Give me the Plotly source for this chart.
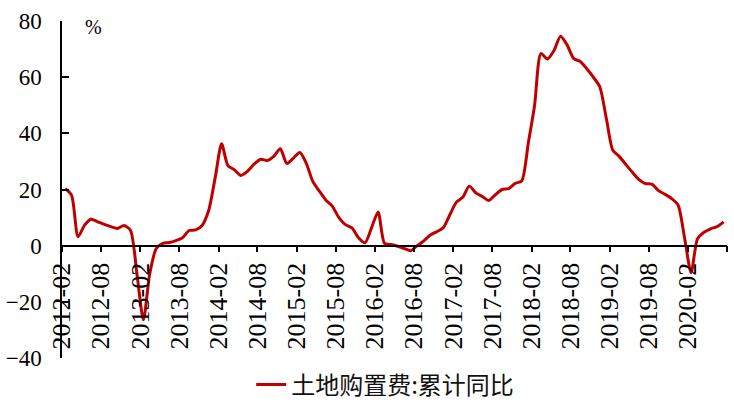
# 土地购置费:累计同比 (2012-02 ~ 2020-07)

import pandas as pd
import plotly.graph_objects as go

# data, monthly, % yoy (Jan is midpoint-filled in source)
values = [
    20.3, 18.0, 3.2, 7.3, 9.4, 8.5, 7.6, 6.8, 6.1, 7.2, 5.5,            # 2012-02 .. 2012-12
    -10.5, -26.4, -10.0, -1.0, 0.8, 1.1, 1.8, 2.8, 5.4, 5.6, 7.2, 12.5,  # 2013
    24.4, 36.3, 28.5, 27.0, 25.0, 26.5, 29.0, 30.8, 30.3, 31.8, 34.5, 29.3,  # 2014
    31.2, 33.2, 29.5, 23.0, 19.5, 16.3, 14.1, 10.0, 7.5, 6.3, 2.8, 1.0,   # 2015
    6.5, 12.0, 0.8, 0.4, -0.2, -1.0, -1.8, 0.0, 1.7, 3.8, 5.0, 6.5,       # 2016
    11.2, 15.5, 17.2, 21.2, 18.8, 17.5, 16.1, 18.2, 20.0, 20.3, 22.2, 23.0,  # 2017
    36.5, 50.0, 68.4, 66.5, 69.5, 74.6, 71.5, 66.6, 65.6, 63.0, 60.0, 56.5,  # 2018
    45.0, 34.0, 31.8, 29.0, 26.2, 23.6, 22.1, 21.9, 19.6, 18.3, 16.8, 14.5,  # 2019
    2.5, -9.6, 2.5, 4.8, 6.0, 6.8, 8.5,                                   # 2020-01 .. 2020-07
]
months = pd.date_range("2012-02-01", periods=len(values), freq="MS")

tick_dates = pd.date_range("2012-02-01", "2020-08-01", freq="6MS")
tick_labels = [d.strftime("%Y-%m") for d in tick_dates[:-1]] + [""]

series_name = "土地购置费:累计同比"

fig = go.Figure()
fig.add_trace(go.Scatter(
    x=months, y=values, name=series_name, mode="lines",
    xperiod="M1", xperiodalignment="middle",
    line=dict(color="#C00000", width=3, shape="spline", smoothing=0.7),
))

serif = "Liberation Serif"

fig.update_layout(
    width=734, height=404,
    font=dict(family=serif, color="black"),
    margin=dict(l=62, r=7, t=21, b=46, autoexpand=False),
    paper_bgcolor="white", plot_bgcolor="white",
    showlegend=True,
    legend=dict(
        orientation="h",
        x=0.486, xanchor="center", y=-0.08, yanchor="middle",
        font=dict(family="Noto Sans CJK SC", size=24, color="#111"),
        bgcolor="rgba(0,0,0,0)",
    ),
    xaxis=dict(
        type="date",
        range=["2012-02-01", "2020-08-01"],
        tickvals=tick_dates, ticktext=tick_labels,
        tickangle=-90,
        anchor="free", position=1 / 3,
        showline=True, linecolor="black", linewidth=1.5,
        ticks="outside", ticklen=6, tickwidth=1.5, tickcolor="black",
        showgrid=False, zeroline=False, automargin=False,
        tickfont=dict(family=serif, size=26, color="black"),
    ),
    yaxis=dict(
        range=[-40, 80], dtick=20,
        showline=True, linecolor="black", linewidth=1.5,
        ticks="inside", ticklen=7, tickwidth=1.5, tickcolor="black",
        showgrid=False, zeroline=False, automargin=False,
        ticklabelstandoff=14,
        tickfont=dict(family=serif, size=23, color="black"),
    ),
)

fig.add_annotation(
    x=0.047, y=0.982, xref="paper", yref="paper",
    xanchor="center", yanchor="middle",
    text="%", showarrow=False,
    font=dict(family=serif, size=20, color="black"),
)

fig.write_html("out.html", config={"displayModeBar": False},
               post_script="document.body.style.margin='0';")
